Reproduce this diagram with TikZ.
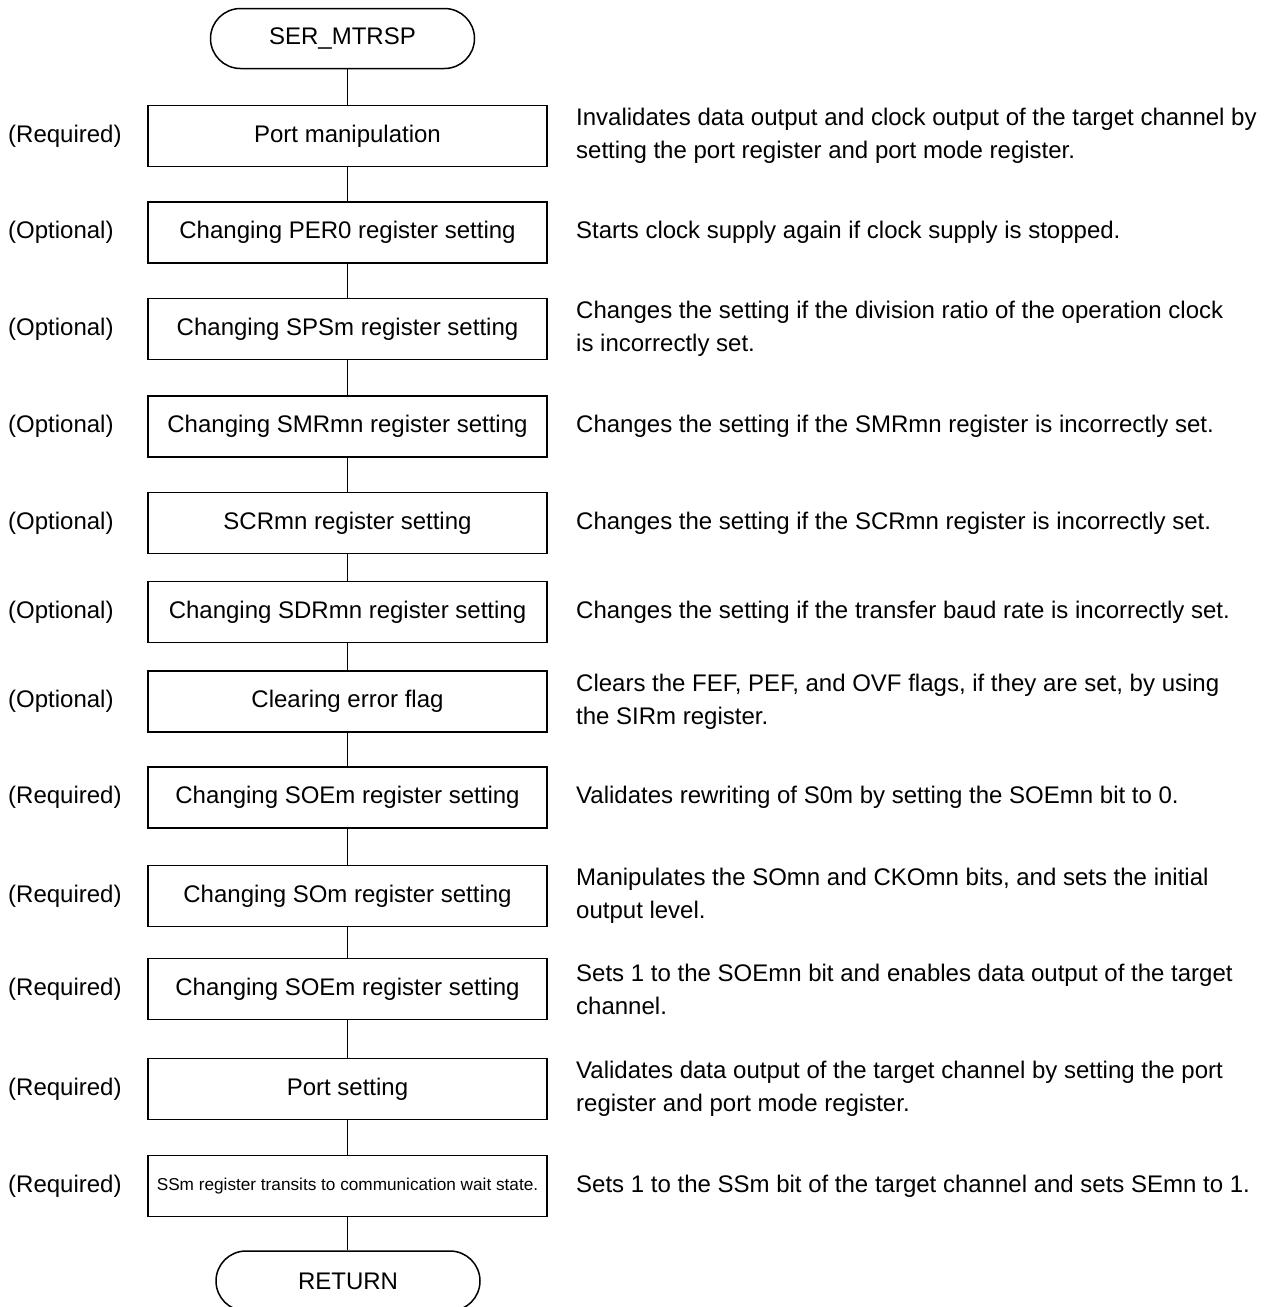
\documentclass[tikz,border=0pt]{standalone}
\usepackage{fontspec}
\setmainfont{Liberation Sans}
\begin{document}
\begin{tikzpicture}[x=1pt,y=-1pt,
  box/.style={draw,line width=1.5pt,minimum width=399pt,minimum height=61pt,inner sep=0pt,font=\fontsize{24}{28}\selectfont},
  term/.style={draw,line width=1.5pt,rounded corners=30pt,minimum width=264pt,minimum height=60pt,inner sep=0pt,font=\fontsize{24}{28}\selectfont},
  lab/.style={anchor=west,inner sep=0pt,font=\fontsize{24}{28}\selectfont},
  desc/.style={anchor=west,align=left,inner sep=0pt,font=\fontsize{24}{33}\selectfont},
  conn/.style={line width=1.5pt}]
\useasboundingbox (0,0) rectangle (1274,1307);
\clip (0,0) rectangle (1274,1307);

\node[term] (start) at (342.5,38.5) {SER\_MTRSP};

\node[box] (b1) at (347.5,136) {Port manipulation};
\node[box] (b2) at (347.5,232.5) {Changing PER0 register setting};
\node[box] (b3) at (347.5,329) {Changing SPSm register setting};
\node[box] (b4) at (347.5,426.5) {Changing SMRmn register setting};
\node[box] (b5) at (347.5,523) {SCRmn register setting};
\node[box] (b6) at (347.5,612) {Changing SDRmn register setting};
\node[box] (b7) at (347.5,701.5) {Clearing error flag};
\node[box] (b8) at (347.5,797.5) {Changing SOEm register setting};
\node[box] (b9) at (347.5,896) {Changing SOm register setting};
\node[box] (b10) at (347.5,989) {Changing SOEm register setting};
\node[box] (b11) at (347.5,1089) {Port setting};
\node[box,font=\fontsize{17.2}{20}\selectfont] (b12) at (347.5,1186) {SSm register transits to communication wait state.};

\node[term] (ret) at (348,1281) {RETURN};

\node[lab] (l1) at (8,136) {(Required)};
\node[lab] (l2) at (8,232.5) {(Optional)};
\node[lab] (l3) at (8,329) {(Optional)};
\node[lab] (l4) at (8,426.5) {(Optional)};
\node[lab] (l5) at (8,523) {(Optional)};
\node[lab] (l6) at (8,612) {(Optional)};
\node[lab] (l7) at (8,701.5) {(Optional)};
\node[lab] (l8) at (8,797.5) {(Required)};
\node[lab] (l9) at (8,896) {(Required)};
\node[lab] (l10) at (8,989) {(Required)};
\node[lab] (l11) at (8,1089) {(Required)};
\node[lab] (l12) at (8,1186) {(Required)};

\node[desc] (d1) at (576,136) {Invalidates data output and clock output of the target channel by\\setting the port register and port mode register.};
\node[desc] (d2) at (576,232.5) {Starts clock supply again if clock supply is stopped.};
\node[desc] (d3) at (576,329) {Changes the setting if the division ratio of the operation clock\\is incorrectly set.};
\node[desc] (d4) at (576,426.5) {Changes the setting if the SMRmn register is incorrectly set.};
\node[desc] (d5) at (576,523) {Changes the setting if the SCRmn register is incorrectly set.};
\node[desc] (d6) at (576,612) {Changes the setting if the transfer baud rate is incorrectly set.};
\node[desc] (d7) at (576,701.5) {Clears the FEF, PEF, and OVF flags, if they are set, by using\\the SIRm register.};
\node[desc] (d8) at (576,797.5) {Validates rewriting of S0m by setting the SOEmn bit to 0.};
\node[desc] (d9) at (576,896) {Manipulates the SOmn and CKOmn bits, and sets the initial\\output level.};
\node[desc] (d10) at (576,989) {Sets 1 to the SOEmn bit and enables data output of the target\\channel.};
\node[desc] (d11) at (576,1089) {Validates data output of the target channel by setting the port\\register and port mode register.};
\node[desc] (d12) at (576,1186) {Sets 1 to the SSm bit of the target channel and sets SEmn to 1.};

\draw[conn] (b1.north |- start.south) -- (b1.north);
\draw[conn] (b1.south) -- (b2.north);
\draw[conn] (b2.south) -- (b3.north);
\draw[conn] (b3.south) -- (b4.north);
\draw[conn] (b4.south) -- (b5.north);
\draw[conn] (b5.south) -- (b6.north);
\draw[conn] (b6.south) -- (b7.north);
\draw[conn] (b7.south) -- (b8.north);
\draw[conn] (b8.south) -- (b9.north);
\draw[conn] (b9.south) -- (b10.north);
\draw[conn] (b10.south) -- (b11.north);
\draw[conn] (b11.south) -- (b12.north);
\draw[conn] (b12.south) -- (b12.south |- ret.north);
\end{tikzpicture}
\end{document}
